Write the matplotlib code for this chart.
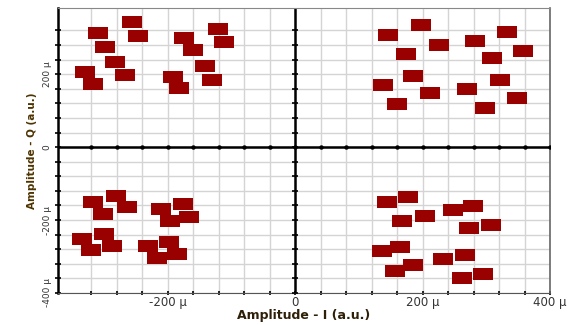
import numpy as np
import matplotlib
matplotlib.use("Agg")
import matplotlib.pyplot as plt
from matplotlib.ticker import FixedLocator, FuncFormatter

# constellation points (in micro units), one list per quadrant
q1_i = [-309, -255, -246, -298, -282, -329, -266, -317, -174, -160, -191, -182, -141, -121, -111, -130]
q1_q = [313, 343, 305, 275, 234, 207, 199, 172, 300, 267, 193, 161, 221, 324, 289, 185]

q2_i = [146, 174, 197, 226, 185, 138, 160, 212, 282, 309, 332, 357, 321, 270, 298, 348]
q2_q = [308, 256, 335, 281, 196, 169, 117, 147, 292, 243, 316, 264, 183, 158, 106, 134]

q3_i = [-317, -281, -263, -301, -334, -299, -320, -287, -210, -196, -176, -166, -230, -197, -216, -185]
q3_q = [-150, -134, -163, -183, -251, -237, -283, -270, -169, -202, -155, -191, -272, -259, -305, -294]

q4_i = [144, 177, 168, 204, 136, 165, 157, 185, 248, 279, 273, 307, 232, 266, 262, 295]
q4_q = [-150, -136, -202, -188, -286, -275, -341, -324, -172, -161, -223, -213, -308, -297, -360, -349]

x_ticks = [-200, 0, 200, 400]
y_ticks = [-400, -200, 0, 200]
x_grid = np.arange(-320, 401, 40)
y_grid = np.arange(-400, 321, 40)

i_vals = q1_i + q2_i + q3_i + q4_i
q_vals = q1_q + q2_q + q3_q + q4_q

fig = plt.figure(figsize=(5.73, 3.25), dpi=100)
ax = fig.add_axes([0.101, 0.0985, 0.859, 0.8765])
ax.set_xlim(-372, 400)
ax.set_ylim(-400, 381)

# grid
for gx in x_grid:
    ax.axvline(gx, color="#d4d4d4", lw=1.0, zorder=0)
for gy in y_grid:
    ax.axhline(gy, color="#d4d4d4", lw=1.0, zorder=0)

# crossing zero axes with small tick marks
ax.axhline(0, color="black", lw=1.8, zorder=2)
ax.axvline(0, color="black", lw=1.8, zorder=2)
ax.plot(x_grid, np.zeros(len(x_grid)), ls="none", marker="o", ms=2.2, color="black", zorder=3)
ax.plot(np.zeros(len(y_grid)), y_grid, ls="none", marker="_", ms=5, mew=1.2, color="black", zorder=3)

# rectangle-shaped markers
rect = [(-1, -0.63), (1, -0.63), (1, 0.63), (-1, 0.63), (-1, -0.63)]
ax.scatter(i_vals, q_vals, marker=rect, s=14 ** 2, color="#990000", linewidths=0, zorder=4)

# spines
ax.spines["left"].set_linewidth(1.8)
ax.spines["left"].set_color("black")
ax.spines["bottom"].set_linestyle((0, (1.5, 1)))
ax.spines["bottom"].set_color("#555555")
ax.spines["top"].set_linestyle((0, (1.5, 1)))
ax.spines["top"].set_color("#888888")
ax.spines["right"].set_color("#666666")
ax.spines["right"].set_linewidth(1.2)

def mu(v, pos):
    if v == 0:
        return "0"
    return f"{int(v)} \u00b5"

ax.xaxis.set_major_locator(FixedLocator(x_ticks))
ax.yaxis.set_major_locator(FixedLocator(y_ticks))
ax.xaxis.set_major_formatter(FuncFormatter(mu))
ax.yaxis.set_major_formatter(FuncFormatter(mu))
ax.xaxis.set_minor_locator(FixedLocator(x_grid))
ax.yaxis.set_minor_locator(FixedLocator(y_grid))

ax.tick_params(axis="y", which="both", direction="inout", length=5, width=1.2, color="black")
ax.tick_params(axis="x", which="both", direction="inout", length=3, width=1.2, color="black")
for lab in ax.get_xticklabels():
    lab.set_fontsize(8.5)
    lab.set_color("#333333")
for lab in ax.get_yticklabels():
    lab.set_fontsize(6.5)
    lab.set_family(["Liberation Sans Narrow", "DejaVu Sans"])
    lab.set_rotation(90)
    lab.set_va("center")
    lab.set_color("#333333")
ax.tick_params(axis="x", pad=1)
ax.tick_params(axis="y", pad=2)

ax.set_xlabel("Amplitude - I (a.u.)", fontsize=9, fontweight="bold", color="#2e2008", labelpad=0)
ax.set_ylabel("Amplitude - Q (a.u.)", fontsize=7.5, fontweight="bold", color="#4d3300",
              family=["Liberation Sans Narrow", "DejaVu Sans"], labelpad=4)

fig.savefig("out.png", dpi=100)
